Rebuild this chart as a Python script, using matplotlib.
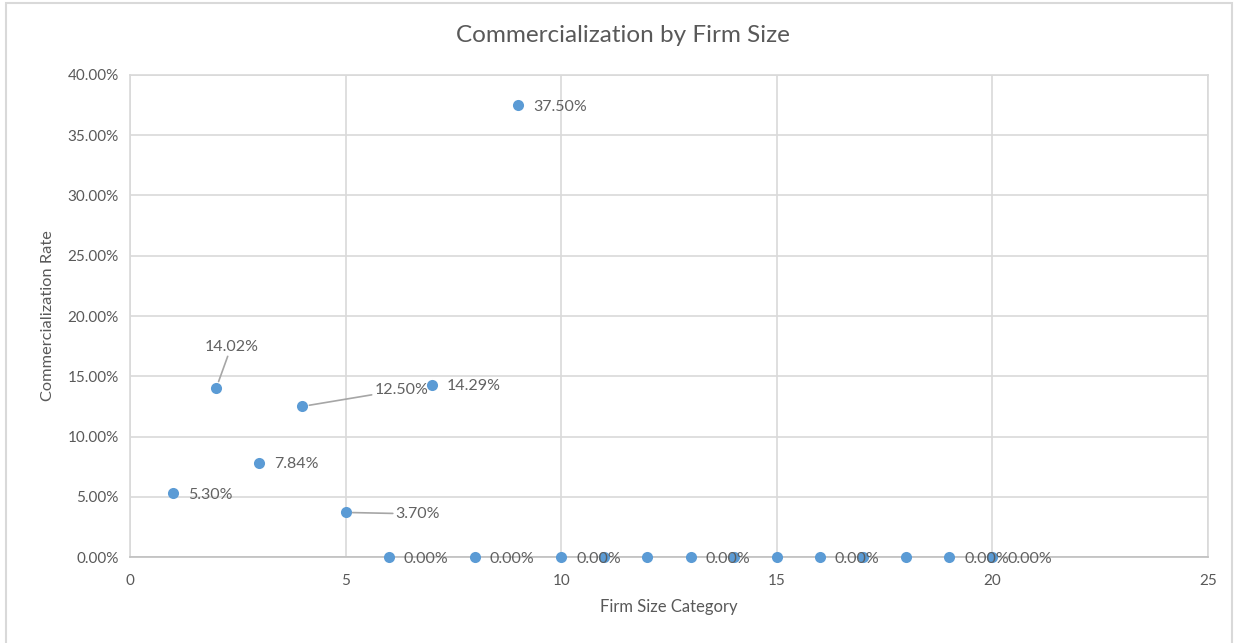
import matplotlib.pyplot as plt
from matplotlib.ticker import PercentFormatter
from matplotlib.patches import Rectangle

plt.rcParams['font.family'] = ['Lato', 'DejaVu Sans']

# firm size category vs commercialization rate (%)
size_category = [1, 2, 3, 4, 5, 6, 7, 8, 9, 10, 11, 12, 13, 14, 15, 16, 17, 18, 19, 20]
comm_rate = [5.30, 14.02, 7.84, 12.50, 3.70, 0.00, 14.29, 0.00, 37.50, 0.00,
             0.00, 0.00, 0.00, 0.00, 0.00, 0.00, 0.00, 0.00, 0.00, 0.00]
# categories that carry a data label
labelled = [1, 2, 3, 4, 5, 6, 7, 8, 9, 10, 13, 16, 19, 20]

text_col = '#595959'
grid_col = '#d9d9d9'
dot_col = '#5b9bd5'

fig = plt.figure(figsize=(12.38, 6.43), dpi=100)
ax = fig.add_axes([0.105, 0.1337, 0.8707, 0.7497])

ax.scatter(size_category, comm_rate, s=64, color=dot_col, zorder=3,
           linewidths=0, clip_on=False)

# label offsets in points (dx, dy, ha, leader line)
px = 0.72
special = {
    2: (15 * px, 43 * px, 'center', True),
    4: (72 * px, 18 * px, 'left', True),
    5: (50 * px, 0, 'left', True),
}
for x, y in zip(size_category, comm_rate):
    if x not in labelled:
        continue
    dx, dy, ha, line = special.get(x, (15 * px, 0, 'left', False))
    props = None
    if line:
        props = dict(arrowstyle='-', color='#a6a6a6', lw=1.2, shrinkA=0, shrinkB=5)
    ax.annotate(f'{y:.2f}%', (x, y), xytext=(dx, dy), textcoords='offset points',
                ha=ha, va='center_baseline', fontsize=11.5, color=text_col, zorder=4,
                alpha=0.95, arrowprops=props, annotation_clip=False)

ax.set_xlim(0, 25)
ax.set_ylim(0, 40)
ax.set_xticks(range(0, 26, 5))
ax.set_yticks(range(0, 41, 5))
ax.yaxis.set_major_formatter(PercentFormatter(decimals=2))
ax.grid(True, color=grid_col, lw=1.2)
ax.set_axisbelow(True)
for sp in ax.spines.values():
    sp.set_color(grid_col)
    sp.set_linewidth(1.2)
ax.spines['bottom'].set_color('#bfbfbf')
ax.tick_params(length=0, labelsize=11, labelcolor=text_col, pad=8)
ax.tick_params(axis='x', pad=12)

fig.text(0.503, 0.945, 'Commercialization by Firm Size', fontsize=17.5,
         color=text_col, ha='center', va='center')
ax.set_xlabel('Firm Size Category', fontsize=12, color=text_col, labelpad=8)
ax.set_ylabel('Commercialization Rate', fontsize=11.8, color=text_col, labelpad=9)

# chart border
fig.patches.append(Rectangle((0.005, -0.01), 0.99, 1.005, transform=fig.transFigure,
                             fill=False, edgecolor='#d9d9d9', lw=1.5))

fig.savefig('out.png', dpi=100)
